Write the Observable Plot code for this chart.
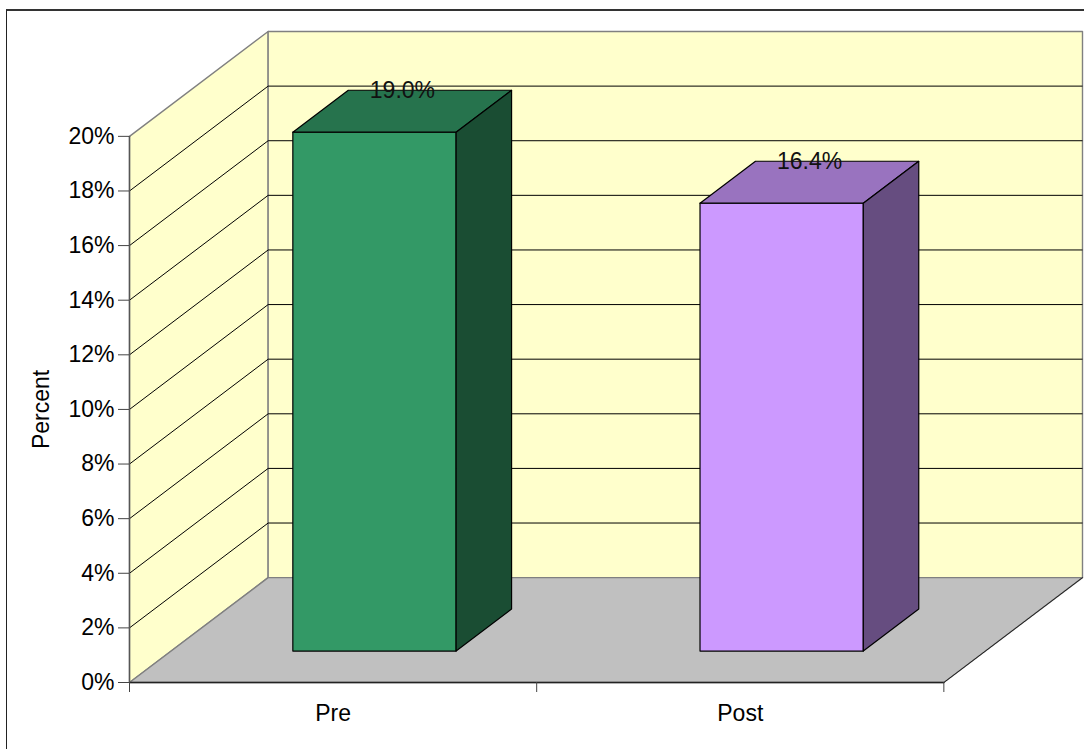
<!DOCTYPE html>
<html>
<head>
<meta charset="utf-8">
<script src="https://cdn.jsdelivr.net/npm/d3@7"></script>
<script src="https://cdn.jsdelivr.net/npm/@observablehq/plot@0.6"></script>
<style>
  html, body { margin: 0; padding: 0; background: #fff; width: 1084px; height: 749px; overflow: hidden; }
  #chart { position: absolute; left: 0; top: 0; }
  #border { position: absolute; left: 6px; top: 9px; right: -4px; bottom: -4px;
            border-left: 1.2px solid #222; border-top: 2px solid #333; }
</style>
</head>
<body>
<div id="border"></div>
<div id="chart"></div>
<script>
// Survey result, before and after
const categories = ["Pre", "Post"];
const percents = [19.0, 16.4];
const valueLabels = ["19.0%", "16.4%"];
const yTicks = [0, 2, 4, 6, 8, 10, 12, 14, 16, 18, 20];

const frontColors = ["#339966", "#CC99FF"];
const topColors = ["#26734D", "#9973BF"];
const sideColors = ["#1A4D33", "#664D80"];

// Oblique view: depth runs 0..1 from the front of the floor to the back wall.
// One unit of depth shifts a point right (in category units) and up (in percent).
const depthX = 0.3405;
const depthY = 3.84;
const project = (cat, pct, depth) => ({x: cat + depth * depthX, y: pct + depth * depthY});

const poly = (corners) => corners.map(([c, p, d]) => project(c, p, d));

const yMax = 20;
const n = categories.length;

const sideWall = poly([[0, 0, 0], [0, yMax, 0], [0, yMax, 1], [0, 0, 1], [0, 0, 0]]);
const backWall = poly([[0, 0, 1], [0, yMax, 1], [n, yMax, 1], [n, 0, 1], [0, 0, 1]]);
const floor = poly([[0, 0, 0], [0, 0, 1], [n, 0, 1], [n, 0, 0], [0, 0, 0]]);

const wallStroke = "#808080";
const face = (points, fill) => Plot.line(points, {x: "x", y: "y", fill, stroke: "#000", strokeWidth: 1.2, strokeLinejoin: "round"});

// Each bar is three faces sitting in the middle of its category and of the floor depth.
const barMarks = percents.flatMap((v, i) => {
  const l = i + 0.299, r = i + 0.7, f = 0.3, b = 0.7;
  return [
    face(poly([[l, 0, f], [r, 0, f], [r, v, f], [l, v, f], [l, 0, f]]), frontColors[i]),
    face(poly([[l, v, f], [r, v, f], [r, v, b], [l, v, b], [l, v, f]]), topColors[i]),
    face(poly([[r, 0, f], [r, 0, b], [r, v, b], [r, v, f], [r, 0, f]]), sideColors[i])
  ];
});

const gridTicks = yTicks.filter((t) => t > 0 && t < yMax);
const fontSize = 23;

const chart = Plot.plot({
  width: 1084,
  height: 749,
  marginLeft: 129,
  marginRight: 2,
  marginTop: 31,
  marginBottom: 67,
  style: {fontFamily: "'Liberation Sans', Arial, sans-serif", background: "transparent", color: "#000"},
  x: {domain: [0, n + depthX], axis: null},
  y: {domain: [0, yMax + depthY], axis: null},
  marks: [
    // walls and floor
    Plot.line(sideWall, {x: "x", y: "y", fill: "#FFFFCC", stroke: wallStroke, strokeWidth: 1.4}),
    Plot.line(backWall, {x: "x", y: "y", fill: "#FFFFCC", stroke: wallStroke, strokeWidth: 1.4}),
    // gridlines across both walls
    Plot.link(gridTicks, {
      x1: () => project(0, 0, 0).x, x2: () => project(0, 0, 1).x,
      y1: (t) => project(0, t, 0).y, y2: (t) => project(0, t, 1).y,
      stroke: "#000", strokeWidth: 1
    }),
    Plot.link(gridTicks, {
      x1: () => project(0, 0, 1).x, x2: () => project(n, 0, 1).x,
      y1: (t) => project(0, t, 1).y, y2: (t) => project(0, t, 1).y,
      stroke: "#000", strokeWidth: 1
    }),
    Plot.line(floor, {x: "x", y: "y", fill: "#C0C0C0", stroke: wallStroke, strokeWidth: 1.4}),
    // front and right edges of the floor, and the vertical axis line
    Plot.line(poly([[0, 0, 0], [n, 0, 0]]), {x: "x", y: "y", stroke: "#222", strokeWidth: 1.5}),
    Plot.line(poly([[n, 0, 0], [n, 0, 1]]), {x: "x", y: "y", stroke: "#222", strokeWidth: 1}),
    Plot.line(poly([[0, 0, 0], [0, yMax, 0]]), {x: "x", y: "y", stroke: "#555", strokeWidth: 1.4}),
    ...barMarks,
    // axes
    Plot.axisY({
      ticks: yTicks, tickFormat: (d) => `${d}%`, tickSize: 11, tickPadding: 4,
      fontSize, stroke: "#444", fill: "#000", label: null
    }),
    Plot.axisX({ticks: d3.range(n + 1), tickSize: 10, tickFormat: () => "", stroke: "#444", label: null}),
    Plot.axisX({
      ticks: categories.map((_, i) => i + 0.5), tickFormat: (d) => categories[Math.floor(d)],
      tickSize: 0, tickPadding: 22, fontSize, fill: "#000", label: null
    }),
    Plot.text(["Percent"], {
      frameAnchor: "left", dx: -88, y: () => 10, rotate: -90, textAnchor: "middle",
      fontSize, fill: "#000"
    }),
    // value labels above each bar
    Plot.text(percents, {
      x: (v, i) => project(i + 0.5, v, 0.5).x,
      y: (v) => project(0, v, 0.5).y,
      text: (v, i) => valueLabels[i],
      dy: -21, fontSize, fill: "#111"
    })
  ]
});

document.getElementById("chart").appendChild(chart);
</script>
</body>
</html>
